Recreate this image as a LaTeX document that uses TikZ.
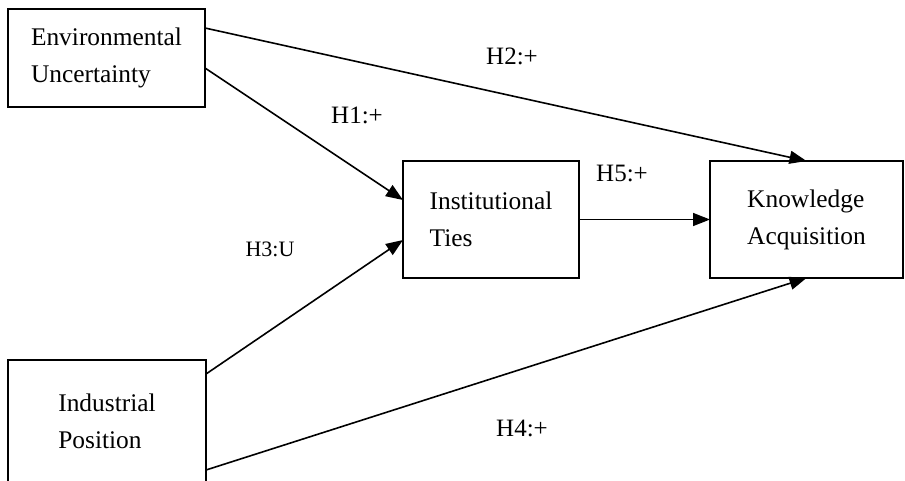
\documentclass[tikz,border=0pt]{standalone}
\usepackage{fontspec}
\setmainfont{Liberation Serif}
\usetikzlibrary{arrows.meta}
\tikzset{
  box/.style={draw, line width=1.6pt, inner sep=0pt, outer sep=0pt, align=left,
    font=\fontsize{25.4}{37}\selectfont},
  hlabel/.style={inner sep=0pt, font=\fontsize{25}{30}\selectfont},
  link/.style={line width=1.6pt, -{Triangle[length=17pt,width=13pt]}},
}
\begin{document}
\begin{tikzpicture}[x=1pt,y=-1pt]
\useasboundingbox (0,0) rectangle (905,480);
\node[box, minimum width=197pt, minimum height=98pt] (eu) at (106.5,58) {Environmental\\Uncertainty};
\node[box, minimum width=198pt, minimum height=122pt] (ip) at (107,421) {Industrial\\Position};
\node[box, minimum width=176pt, minimum height=117pt] (it) at (491,219.5) {Institutional\\Ties};
\node[box, minimum width=193pt, minimum height=117pt] (ka) at (806.5,219.5) {Knowledge\\Acquisition};

\draw[link] ([yshift=30pt]eu.east) -- (ka.north);
\draw[link] ([yshift=-10pt]eu.east) -- ([yshift=19.5pt]it.west);
\draw[link] ([yshift=47pt]ip.east) -- ([yshift=-20.5pt]it.west);
\draw[link] ([yshift=-49pt]ip.east) -- (ka.south);
\draw[link] (it.east) -- (ka.west);

\node[hlabel] (h2) at (512,56) {H2:+};
\node[hlabel] (h1) at (357,115) {H1:+};
\node[hlabel, font=\fontsize{22}{26}\selectfont] (h3) at (270,249) {H3:U};
\node[hlabel] (h5) at (622,173) {H5:+};
\node[hlabel] (h4) at (522,428) {H4:+};
\end{tikzpicture}
\end{document}
